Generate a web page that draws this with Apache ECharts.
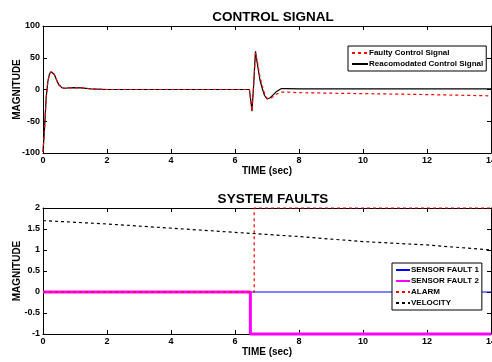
<!DOCTYPE html>
<html>
<head>
<meta charset="utf-8">
<script src="https://cdn.jsdelivr.net/npm/echarts@6/dist/echarts.min.js"></script>
<style>
html,body{margin:0;padding:0;background:#fff;}
#chart{width:492px;height:362px;}
</style>
</head>
<body>
<div id="chart"></div>
<script>
// Time axis ticks shared by both panels
const timeTicks = [0, 2, 4, 6, 8, 10, 12, 14];

// Control signal panel
const ctrlTime = [0, 0.05, 0.1, 0.15, 0.2, 0.25, 0.3, 0.35, 0.4, 0.45, 0.5, 0.55, 0.6, 0.7, 0.8, 1.0, 1.2, 1.5, 2, 4, 6, 6.45, 6.5, 6.53, 6.58, 6.64, 6.7, 6.78, 6.85, 6.92, 7.0, 7.1, 7.2, 7.3, 7.45, 7.6, 8, 9, 10, 11, 12, 13, 14];
const reaccommodated = [-98, -60, -12, 12, 24, 28, 27.5, 24, 18, 12, 7, 4, 2.5, 2, 2.5, 3, 2.5, 1, 0, 0, 0, 0, -20, -34, 5, 60, 40, 15, 2, -9, -15, -13, -8, -3, 1.5, 1.5, 1, 1, 1, 1, 1, 1, 1];
const faulty = [-98, -60, -12, 12, 24, 28, 27.5, 24, 18, 12, 7, 4, 2.5, 2, 2.5, 3, 2.5, 1, 0, 0, 0, 0, -20, -34, 5, 58, 44, 20, 6, -6, -14, -14, -11, -7, -4, -4, -5, -5.8, -6.5, -7.2, -8, -9, -10];

// System faults panel
const faultTime = [0, 6.48, 6.48, 14];
const sensorFault1 = [0, 0, 0, 0];
const sensorFault2 = [0, 0, -1, -1];
const alarmTime = [0, 6.6, 6.6, 14];
const alarm = [0, 0, 2, 2];
const velTime = [0, 1, 2, 3, 4, 5, 6, 7, 8, 9, 10, 11, 12, 13, 14];
const velocity = [1.70, 1.66, 1.62, 1.57, 1.52, 1.47, 1.42, 1.37, 1.32, 1.26, 1.20, 1.16, 1.12, 1.06, 1.00];

const zip = (xs, ys) => xs.map((x, i) => [x, ys[i]]);

const FONT = '"Liberation Sans", Arial, Helvetica, sans-serif';
const labelStyle = { fontFamily: FONT, fontWeight: 'bold', fontSize: 9, color: '#000' };

function xAxes(gridIndex) {
  const base = {
    type: 'value', gridIndex, min: 0, max: 14, interval: 2,
    axisLine: { show: true, onZero: false, lineStyle: { color: '#000', width: 1 } },
    axisTick: { show: true, inside: true, length: 4, lineStyle: { color: '#000' } },
    splitLine: { show: false }
  };
  return [
    Object.assign({}, base, {
      position: 'bottom',
      axisLabel: Object.assign({ margin: 3 }, labelStyle),
      name: 'TIME (sec)', nameLocation: 'middle', nameGap: 13, nameMoveOverlap: false,
      nameTextStyle: { fontFamily: FONT, fontWeight: 'bold', fontSize: 10, color: '#000' }
    }),
    Object.assign({}, base, { position: 'top', axisLabel: { show: false } })
  ];
}

function yAxes(gridIndex, min, max, interval) {
  const base = {
    type: 'value', gridIndex, min, max, interval,
    axisLine: { show: true, onZero: false, lineStyle: { color: '#000', width: 1 } },
    axisTick: { show: true, inside: true, length: 4, lineStyle: { color: '#000' } },
    splitLine: { show: false }
  };
  return [
    Object.assign({}, base, {
      position: 'left',
      axisLabel: Object.assign({ margin: 3 }, labelStyle),
      name: 'MAGNITUDE', nameLocation: 'middle', nameGap: 21, nameRotate: 90, nameMoveOverlap: false,
      nameTextStyle: { fontFamily: FONT, fontWeight: 'bold', fontSize: 10, color: '#000' }
    }),
    Object.assign({}, base, { position: 'right', axisLabel: { show: false } })
  ];
}

const chart = echarts.init(document.getElementById('chart'), null, { renderer: 'canvas' });

const lineBase = { type: 'line', showSymbol: false, symbol: 'none', animation: false, clip: false };

const legendBase = {
  orient: 'vertical',
  backgroundColor: '#fff', borderColor: '#000', borderWidth: 1, borderRadius: 0,
  padding: [3, 3, 3, 3], itemWidth: 14, itemHeight: 8,
  itemStyle: { opacity: 0 },
  textStyle: { fontFamily: FONT, fontWeight: 'bold', fontSize: 8, color: '#000', padding: [0, 0, 0, -4] }
};

chart.setOption({
  backgroundColor: '#fff',
  animation: false,
  title: [
    { text: 'CONTROL SIGNAL', left: 268, top: 5, textAlign: 'center',
      textStyle: { fontFamily: FONT, fontWeight: 'bold', fontSize: 13.5, color: '#000' } },
    { text: 'SYSTEM FAULTS', left: 268, top: 187, textAlign: 'center',
      textStyle: { fontFamily: FONT, fontWeight: 'bold', fontSize: 13.5, color: '#000' } }
  ],
  grid: [
    { left: 43, top: 26, width: 448, height: 127, containLabel: false, outerBoundsMode: 'none' },
    { left: 43, top: 208, width: 448, height: 126, containLabel: false, outerBoundsMode: 'none' }
  ],
  xAxis: [...xAxes(0), ...xAxes(1)],
  yAxis: [...yAxes(0, -100, 100, 50), ...yAxes(1, -1, 2, 0.5)],
  legend: [
    Object.assign({}, legendBase, {
      data: ['Faulty Control Signal', 'Reacomodated Control Signal'],
      left: 348, top: 46, itemGap: 3, itemWidth: 16
    }),
    Object.assign({}, legendBase, {
      data: ['SENSOR FAULT 1', 'SENSOR FAULT 2', 'ALARM', 'VELOCITY'],
      left: 392, top: 263, itemGap: 3
    })
  ],
  series: [
    Object.assign({}, lineBase, {
      name: 'Reacomodated Control Signal', xAxisIndex: 0, yAxisIndex: 0,
      data: zip(ctrlTime, reaccommodated),
      lineStyle: { color: '#000', width: 1.2 }, itemStyle: { color: '#000' }
    }),
    Object.assign({}, lineBase, {
      name: 'Faulty Control Signal', xAxisIndex: 0, yAxisIndex: 0,
      data: zip(ctrlTime, faulty),
      lineStyle: { color: '#ff0000', width: 1.2, type: [3, 3] }, itemStyle: { color: '#ff0000' }
    }),
    Object.assign({}, lineBase, {
      name: 'SENSOR FAULT 1', xAxisIndex: 2, yAxisIndex: 2,
      data: zip([faultTime[0], faultTime[3]], [sensorFault1[0], sensorFault1[3]]),
      lineStyle: { color: '#0000ff', width: 1.2 }, itemStyle: { color: '#0000ff' }
    }),
    Object.assign({}, lineBase, {
      name: 'SENSOR FAULT 2', xAxisIndex: 2, yAxisIndex: 2,
      data: zip(faultTime, sensorFault2),
      lineStyle: { color: '#ff00ff', width: 3 }, itemStyle: { color: '#ff00ff' }
    }),
    Object.assign({}, lineBase, {
      name: 'ALARM', xAxisIndex: 2, yAxisIndex: 2,
      data: zip(alarmTime, alarm),
      lineStyle: { color: '#ff0000', width: 1.2, type: [3, 3] }, itemStyle: { color: '#ff0000' }
    }),
    Object.assign({}, lineBase, {
      name: 'VELOCITY', xAxisIndex: 2, yAxisIndex: 2,
      data: zip(velTime, velocity),
      lineStyle: { color: '#000', width: 1.2, type: [3, 3] }, itemStyle: { color: '#000' }
    })
  ]
});
</script>
</body>
</html>
